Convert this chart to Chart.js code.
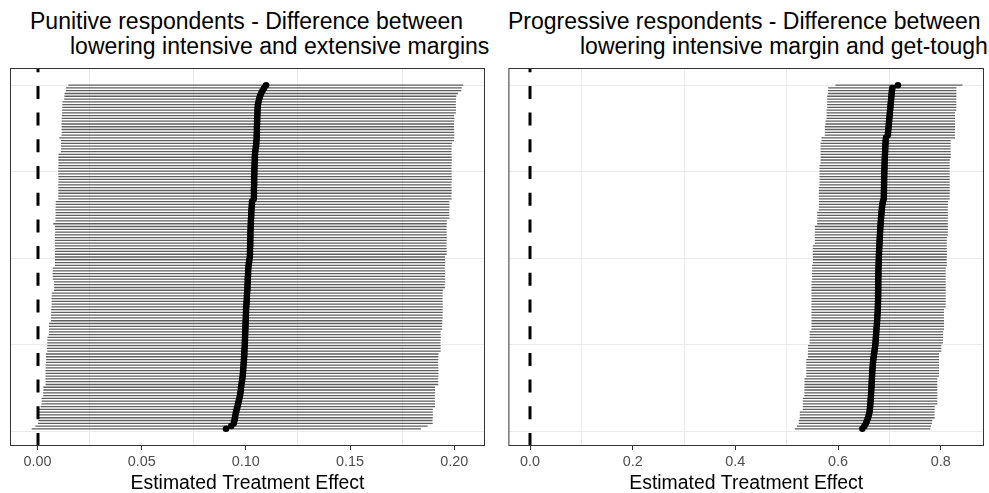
<!DOCTYPE html>
<html>
<head>
<meta charset="utf-8">
<script src="https://cdn.jsdelivr.net/npm/chart.js@4.4.1/dist/chart.umd.min.js"></script>
<style>
  html, body { margin: 0; padding: 0; background: #fff; }
  #wrap { position: relative; width: 989px; height: 493px; overflow: hidden; font-family: "Liberation Sans", Arial, sans-serif; }
  .panel { position: absolute; top: 0; height: 493px; }
  .title { position: absolute; font-size: 23px; line-height: 25px; white-space: nowrap; color: #000; }
</style>
</head>
<body>
<div id="wrap">
  <div class="title" style="left:30px;top:9px">Punitive respondents - Difference between</div>
  <div class="title" style="left:70px;top:34px">lowering intensive and extensive margins</div>
  <div class="title" style="left:508px;top:9px">Progressive respondents - Difference between</div>
  <div class="title" style="left:580px;top:34px">lowering intensive margin and get-tough</div>
  <div class="panel" style="left:0;width:494px"><canvas id="punitive"></canvas></div>
  <div class="panel" style="left:494px;width:495px"><canvas id="progressive"></canvas></div>
</div>
<script>
// Rows are listed from the top of the panel (largest estimate) down to the bottom.

// Punitive respondents: intensive vs extensive margins
const punitiveEst = [
  0.1097, 0.1088, 0.1080, 0.1073, 0.1068, 0.1064, 0.1061,
  0.1058, 0.1057, 0.1056, 0.1056, 0.1055, 0.1055,
  0.1054, 0.1054, 0.1053, 0.1053, 0.1053, 0.1052,
  0.1052, 0.1051, 0.1050, 0.1049, 0.1047, 0.1045,
  0.1044, 0.1043, 0.1043, 0.1042, 0.1042, 0.1041,
  0.1041, 0.1041, 0.1040, 0.1040, 0.1040, 0.1040, 0.1039, 0.1039, 0.1039, 0.1039, 0.1038,
  0.1030, 0.1029, 0.1028, 0.1027, 0.1026, 0.1026, 0.1025, 0.1024,
  0.1024, 0.1023, 0.1023, 0.1022, 0.1022, 0.1022, 0.1021, 0.1021, 0.1021, 0.1020, 0.1020, 0.1020,
  0.1019, 0.1017, 0.1015, 0.1013,
  0.1012, 0.1011, 0.1011, 0.1010, 0.1009, 0.1009, 0.1008, 0.1008, 0.1007,
  0.1006, 0.1005, 0.1005, 0.1004, 0.1003, 0.1002, 0.1001, 0.1001, 0.1000, 0.1000, 0.0999,
  0.0999, 0.0998, 0.0998, 0.0997, 0.0997, 0.0996, 0.0996, 0.0995,
  0.0995, 0.0994, 0.0993, 0.0993, 0.0992, 0.0991, 0.0990, 0.0989, 0.0988, 0.0987, 0.0986, 0.0985,
  0.0983, 0.0981, 0.0979, 0.0977, 0.0976, 0.0974, 0.0972,
  0.0969, 0.0966, 0.0963, 0.0960, 0.0956,
  0.0953, 0.0950, 0.0948, 0.0945, 0.0942,
  0.0930, 0.0905
];
const punitiveLow = [
  0.0148,
  0.0137, 0.0136,
  0.0130, 0.0129, 0.0128,
  0.0120, 0.0119, 0.0119, 0.0118, 0.0118, 0.0117,
  0.0116, 0.0116, 0.0115, 0.0116, 0.0115, 0.0116, 0.0115,
  0.0105,
  0.0113, 0.0113, 0.0112, 0.0113, 0.0112,
  0.0101, 0.0100, 0.0100, 0.0101, 0.0100, 0.0100, 0.0099, 0.0100, 0.0100, 0.0101, 0.0100, 0.0099, 0.0100, 0.0100, 0.0100, 0.0099, 0.0100,
  0.0088, 0.0087, 0.0087, 0.0086, 0.0087, 0.0087, 0.0086, 0.0087,
  0.0076,
  0.0084, 0.0084, 0.0085, 0.0084, 0.0084, 0.0083, 0.0084, 0.0084, 0.0085, 0.0084, 0.0084, 0.0083, 0.0084, 0.0084, 0.0084,
  0.0073, 0.0073, 0.0072, 0.0073, 0.0073,
  0.0079, 0.0079, 0.0080, 0.0079,
  0.0068, 0.0068, 0.0067, 0.0068, 0.0068, 0.0067, 0.0066, 0.0066, 0.0065, 0.0065, 0.0065,
  0.0056, 0.0055, 0.0055, 0.0055, 0.0054,
  0.0048, 0.0047, 0.0047, 0.0047, 0.0046, 0.0047,
  0.0041, 0.0041, 0.0042, 0.0041,
  0.0039, 0.0039, 0.0038, 0.0039, 0.0039, 0.0038, 0.0039, 0.0039,
  0.0028, 0.0028, 0.0027, 0.0028,
  0.0020, 0.0020, 0.0019,
  0.0015,
  0.0007, 0.0007, 0.0006, 0.0007,
  0.0005, 0.0002, -0.0010, -0.0028
];
const punitiveHigh = [
  0.2044,
  0.2036, 0.2034,
  0.2018,
  0.2010, 0.2009, 0.2009, 0.2008, 0.2009, 0.2009, 0.2008,
  0.2000, 0.2001, 0.2000, 0.2000, 0.1999, 0.2000, 0.2000, 0.2001, 0.2000, 0.1999,
  0.1989, 0.1988, 0.1988, 0.1987, 0.1988, 0.1988, 0.1989, 0.1988, 0.1988, 0.1987, 0.1988,
  0.1988, 0.1988, 0.1989, 0.1988, 0.1987, 0.1988, 0.1988, 0.1988, 0.1987, 0.1988,
  0.1977, 0.1977, 0.1978, 0.1977, 0.1976, 0.1977, 0.1977,
  0.1965, 0.1964, 0.1964, 0.1963, 0.1964, 0.1964, 0.1965, 0.1964, 0.1964, 0.1963, 0.1964, 0.1964, 0.1964,
  0.1956, 0.1956, 0.1957, 0.1956, 0.1955, 0.1956, 0.1956, 0.1956, 0.1957, 0.1956, 0.1955, 0.1956,
  0.1946, 0.1945, 0.1945, 0.1944, 0.1945, 0.1945, 0.1946, 0.1945, 0.1945, 0.1944, 0.1945,
  0.1943, 0.1943, 0.1942, 0.1943,
  0.1935, 0.1935, 0.1936, 0.1935, 0.1934, 0.1935, 0.1935, 0.1935,
  0.1925, 0.1924, 0.1924, 0.1923, 0.1924, 0.1924, 0.1925, 0.1924, 0.1924, 0.1923, 0.1924, 0.1924,
  0.1908, 0.1908, 0.1909, 0.1908, 0.1907, 0.1908, 0.1908, 0.1908,
  0.1897, 0.1897, 0.1898, 0.1897, 0.1896,
  0.1897, 0.1873, 0.1840
];

// Progressive respondents: intensive margin vs get-tough
const progressiveEst = [
  0.7167,
  0.7060,
  0.7050, 0.7045, 0.7040, 0.7035, 0.7030,
  0.7025, 0.7020, 0.7015, 0.7010, 0.7005, 0.7000,
  0.6995, 0.6990, 0.6985, 0.6980, 0.6975, 0.6970,
  0.6935, 0.6928, 0.6925, 0.6922, 0.6920, 0.6918,
  0.6915, 0.6912, 0.6910, 0.6908, 0.6906, 0.6905,
  0.6903, 0.6902, 0.6900, 0.6899, 0.6898, 0.6897, 0.6896, 0.6895, 0.6894, 0.6893, 0.6892,
  0.6875, 0.6865, 0.6858, 0.6852, 0.6848, 0.6843, 0.6838, 0.6834,
  0.6830, 0.6826, 0.6823, 0.6820, 0.6817, 0.6814, 0.6811, 0.6808, 0.6805, 0.6802, 0.6800, 0.6798,
  0.6796, 0.6794, 0.6792, 0.6790, 0.6789, 0.6788, 0.6787, 0.6786, 0.6785, 0.6785, 0.6784, 0.6784, 0.6784,
  0.6783, 0.6782, 0.6781, 0.6780, 0.6778, 0.6776, 0.6774, 0.6771, 0.6768, 0.6765, 0.6762,
  0.6758, 0.6754, 0.6750, 0.6746, 0.6742, 0.6738, 0.6734, 0.6730,
  0.6725, 0.6718, 0.6710, 0.6702, 0.6695, 0.6688, 0.6682, 0.6677, 0.6673, 0.6669, 0.6666, 0.6663,
  0.6660, 0.6657, 0.6654, 0.6651, 0.6648, 0.6645, 0.6642,
  0.6638, 0.6634, 0.6630, 0.6625, 0.6620,
  0.6612, 0.6600, 0.6585, 0.6565, 0.6545,
  0.6515, 0.6475
];
const progressiveLow = [
  0.5951,
  0.5808, 0.5807, 0.5808,
  0.5790, 0.5789, 0.5789, 0.5788, 0.5789,
  0.5776, 0.5777, 0.5776, 0.5775,
  0.5756, 0.5755,
  0.5743, 0.5744, 0.5743, 0.5742,
  0.5678, 0.5677,
  0.5660, 0.5659, 0.5659, 0.5658, 0.5659, 0.5660, 0.5659, 0.5658,
  0.5640, 0.5639, 0.5639, 0.5638, 0.5639, 0.5640, 0.5639, 0.5638,
  0.5627, 0.5626, 0.5626, 0.5625, 0.5626, 0.5627, 0.5626, 0.5626, 0.5625,
  0.5595, 0.5594, 0.5594, 0.5593, 0.5594,
  0.5549, 0.5548, 0.5548, 0.5547, 0.5548, 0.5549, 0.5548,
  0.5510, 0.5509, 0.5509, 0.5508, 0.5509, 0.5510, 0.5509,
  0.5497, 0.5496, 0.5496, 0.5495, 0.5496, 0.5496,
  0.5484, 0.5483, 0.5483, 0.5482, 0.5483, 0.5484, 0.5483, 0.5483, 0.5482,
  0.5483, 0.5484, 0.5483, 0.5483, 0.5482, 0.5483, 0.5483, 0.5484, 0.5483,
  0.5448, 0.5447, 0.5447, 0.5446, 0.5447,
  0.5415, 0.5414, 0.5414, 0.5413, 0.5414,
  0.5383, 0.5382, 0.5382, 0.5381, 0.5382, 0.5383, 0.5382,
  0.5347, 0.5346, 0.5346, 0.5345, 0.5346, 0.5347, 0.5346,
  0.5315, 0.5314, 0.5314, 0.5313, 0.5314,
  0.5256, 0.5255, 0.5255,
  0.5237, 0.5236,
  0.5200, 0.5158
];
const progressiveHigh = [
  0.8423,
  0.8306, 0.8305, 0.8306, 0.8307, 0.8306, 0.8305, 0.8306, 0.8306, 0.8305,
  0.8280, 0.8281, 0.8280, 0.8279, 0.8280, 0.8280, 0.8281, 0.8280, 0.8279, 0.8280,
  0.8196, 0.8195, 0.8195, 0.8194, 0.8195, 0.8196, 0.8195,
  0.8177, 0.8176, 0.8176, 0.8175, 0.8176, 0.8177, 0.8176, 0.8176, 0.8175, 0.8176, 0.8176, 0.8177, 0.8176, 0.8175, 0.8176,
  0.8141, 0.8140, 0.8140, 0.8139, 0.8140, 0.8141, 0.8140, 0.8140, 0.8139, 0.8140, 0.8140, 0.8141, 0.8140,
  0.8121, 0.8120, 0.8120, 0.8119, 0.8120, 0.8121, 0.8120, 0.8120, 0.8119, 0.8120, 0.8120,
  0.8099, 0.8098, 0.8098, 0.8097, 0.8098, 0.8099, 0.8098, 0.8098, 0.8097, 0.8098, 0.8098, 0.8099, 0.8098, 0.8097, 0.8098,
  0.8066, 0.8065, 0.8065, 0.8064, 0.8065, 0.8066, 0.8065, 0.8065,
  0.8047, 0.8046, 0.8046, 0.8045, 0.8046,
  0.8014, 0.8013, 0.8013,
  0.7968, 0.7967, 0.7967, 0.7966, 0.7967, 0.7968, 0.7967, 0.7967, 0.7966,
  0.7936, 0.7935, 0.7935, 0.7934, 0.7935, 0.7936, 0.7935, 0.7935, 0.7934, 0.7935,
  0.7884, 0.7883, 0.7883, 0.7882, 0.7883,
  0.7837, 0.7830, 0.7815, 0.7800
];

// Axis breaks
const punitiveMajor = [0, 0.05, 0.10, 0.15, 0.20];
const punitiveMinor = [0.025, 0.075, 0.125, 0.175];
const progressiveMajor = [0, 0.2, 0.4, 0.6, 0.8];
const progressiveMinor = [0.1, 0.3, 0.5, 0.7];
const rankBreaks = [0, 0.25, 0.5, 0.75, 1];
const zeroLine = 0;

const FONT = "'Liberation Sans', Arial, sans-serif";

// dashed reference line + panel frame
const panelDecor = {
  id: "panelDecor",
  afterDatasetsDraw(chart) {
    const { ctx, chartArea, scales } = chart;
    const x = Math.round(scales.x.getPixelForValue(zeroLine));
    ctx.save();
    ctx.strokeStyle = "#000";
    ctx.lineWidth = 3;
    ctx.setLineDash([13, 13.7]);
    ctx.beginPath();
    ctx.moveTo(x, chartArea.bottom);
    ctx.lineTo(x, chartArea.top);
    ctx.stroke();
    ctx.restore();
  },
  afterDraw(chart) {
    const { ctx, chartArea } = chart;
    ctx.save();
    ctx.strokeStyle = "#333";
    ctx.lineWidth = 1;
    ctx.strokeRect(chartArea.left + 0.5, chartArea.top + 0.5,
      chartArea.right - chartArea.left - 1, chartArea.bottom - chartArea.top - 1);
    ctx.restore();
  }
};

function makePanel(canvasId, low, est, high, major, minor, xMin, xMax, digits, pad) {
  const n = est.length;
  const rank = est.map((_, i) => (n - i) / n);

  const segs = [];
  const dots = [];
  for (let i = 0; i < n; i++) {
    segs.push({ x: low[i], y: rank[i] }, { x: high[i], y: rank[i] }, { x: NaN, y: NaN });
    dots.push({ x: est[i], y: rank[i] });
  }
  const xBreaks = major.concat(minor).sort((a, b) => a - b);
  const isMajor = v => major.some(m => Math.abs(m - v) < 1e-9);

  return new Chart(document.getElementById(canvasId), {
    type: "scatter",
    data: {
      datasets: [
        {
          data: dots,
          pointRadius: 3.3,
          pointBackgroundColor: "#000",
          pointBorderWidth: 0,
          pointHoverRadius: 3.3
        },
        {
          data: segs,
          showLine: true,
          spanGaps: false,
          borderColor: "#5e5e5e",
          borderWidth: 1.3,
          pointRadius: 0,
          pointHoverRadius: 0
        }
      ]
    },
    options: {
      responsive: true,
      maintainAspectRatio: false,
      animation: false,
      devicePixelRatio: 1,
      layout: { padding: { left: pad.left, right: pad.right, top: 68, bottom: 0 } },
      plugins: { legend: { display: false }, tooltip: { enabled: false } },
      scales: {
        x: {
          type: "linear",
          min: xMin,
          max: xMax,
          afterBuildTicks: axis => { axis.ticks = xBreaks.map(v => ({ value: v })); },
          afterFit: axis => { axis.height = 47; },
          border: { display: false },
          grid: {
            color: c => (c.tick && isMajor(c.tick.value)) ? "rgba(0,0,0,0)" : "#ebebeb",
            tickColor: c => (c.tick && isMajor(c.tick.value)) ? "#333" : "rgba(0,0,0,0)",
            tickLength: 4,
            lineWidth: 1
          },
          ticks: {
            autoSkip: false,
            maxRotation: 0,
            padding: 3,
            color: "#4d4d4d",
            font: { family: FONT, size: 14.4 },
            callback: v => isMajor(v) ? v.toFixed(digits) : ""
          },
          title: {
            display: true,
            text: "Estimated Treatment Effect",
            color: "#000",
            font: { family: FONT, size: 19.4, lineHeight: 1.0 },
            padding: { top: 0, bottom: 0 }
          }
        },
        y: {
          type: "linear",
          min: -0.0416,
          max: 1.0496,
          afterBuildTicks: axis => { axis.ticks = rankBreaks.map(v => ({ value: v })); },
          afterFit: axis => { axis.width = 0; },
          border: { display: false },
          grid: { color: "#ebebeb", lineWidth: 1, drawTicks: false },
          ticks: { display: false }
        }
      }
    },
    plugins: [panelDecor]
  });
}

makePanel("punitive", punitiveLow, punitiveEst, punitiveHigh,
  punitiveMajor, punitiveMinor, -0.0132, 0.2148, 2, { left: 10, right: 9 });
makePanel("progressive", progressiveLow, progressiveEst, progressiveHigh,
  progressiveMajor, progressiveMinor, -0.0421, 0.8844, 1, { left: 14.4, right: 5 });
</script>
</body>
</html>
